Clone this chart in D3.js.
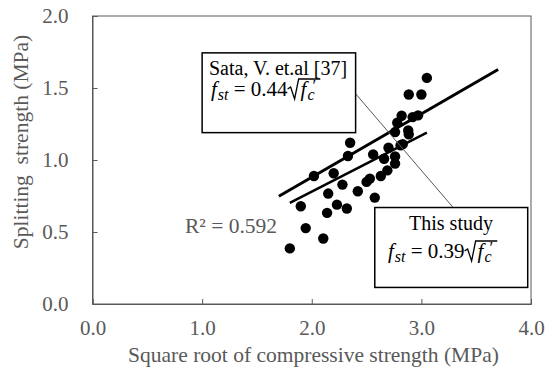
<!DOCTYPE html>
<html>
<head>
<meta charset="utf-8">
<script src="https://cdn.jsdelivr.net/npm/d3@7"></script>
<style>
  html, body { margin: 0; padding: 0; background: #fff; }
  svg { display: block; }
</style>
</head>
<body>
<svg id="chart" width="550" height="377"></svg>
<script>
// ---- data ----
const xValues = [1.80, 1.90, 1.945, 2.02, 2.105, 2.14, 2.15, 2.20, 2.23, 2.28, 2.32, 2.33, 2.35, 2.42, 2.50, 2.53, 2.56, 2.575, 2.63, 2.66, 2.69, 2.70, 2.76, 2.76, 2.76, 2.78, 2.81, 2.82, 2.88, 2.885, 2.885, 2.92, 2.97, 3.00, 3.05, 2.83];
const yValues = [0.386, 0.679, 0.527, 0.889, 0.455, 0.633, 0.767, 0.908, 0.690, 0.829, 0.663, 1.028, 1.120, 0.783, 0.848, 0.871, 1.039, 0.739, 0.889, 1.009, 0.928, 1.085, 0.975, 1.025, 1.194, 1.259, 1.102, 1.307, 1.205, 1.178, 1.455, 1.298, 1.310, 1.455, 1.570, 1.110];
const xTicks = [0, 1, 2, 3, 4];
const yTicks = [0, 0.5, 1.0, 1.5, 2.0];
const sataCoef = 0.44;
const sataRange = [1.7, 3.7];
const studyCoef = 0.39;
const studyRange = [1.8, 3.05];
const r2Label = "R² = 0.592";
const sataTitle = "Sata, V. et.al [37]";
const studyTitle = "This study";
const xTitle = "Square root of compressive strength (MPa)";
const yTitle = "Splitting  strength (MPa)";

// ---- layout ----
const svg = d3.select("#chart");
const gray = "#595959";
const FONT = "\"Liberation Serif\"";
const x = d3.scaleLinear().domain([0, 4]).range([92.5, 531]);
const y = d3.scaleLinear().domain([0, 2]).range([304, 16]);

function styleText(sel, size) {
  return sel.style("font-family", FONT).style("font-size", size + "px");
}

// frame
svg.append("rect")
  .attr("x", x(0)).attr("y", y(2))
  .attr("width", x(4) - x(0)).attr("height", y(0) - y(2))
  .attr("fill", "none").attr("stroke", gray).attr("stroke-width", 1);

const xAxis = svg.append("g").attr("transform", `translate(0,${y(0)})`)
  .call(d3.axisBottom(x).tickValues(xTicks).tickFormat(d3.format(".1f")).tickSize(-5).tickPadding(16));
const yAxis = svg.append("g").attr("transform", `translate(${x(0)},0)`)
  .call(d3.axisLeft(y).tickValues(yTicks).tickFormat(d3.format(".1f")).tickSize(-5).tickPadding(24));
[xAxis, yAxis].forEach(g => {
  g.attr("font-family", null).attr("font-size", null);
  g.select(".domain").attr("stroke", gray);
  g.selectAll(".tick line").attr("stroke", gray);
  styleText(g.selectAll(".tick text"), 21).attr("fill", gray);
});

// axis titles
styleText(svg.append("text").attr("x", 313.5).attr("y", 362)
  .attr("text-anchor", "middle").attr("fill", gray), 21.5).text(xTitle);
styleText(svg.append("text").attr("transform", `translate(28,${y(1) - 18}) rotate(-90)`)
  .attr("text-anchor", "middle").attr("fill", gray), 21.5)
  .attr("xml:space", "preserve").style("white-space", "pre").text(yTitle);

// fit lines
const line = d3.line().x(d => x(d[0])).y(d => y(d[1]));
svg.append("path").datum(sataRange.map(v => [v, sataCoef * v]))
  .attr("d", line).attr("stroke", "#000").attr("stroke-width", 3).attr("fill", "none");
svg.append("path").datum(studyRange.map(v => [v, studyCoef * v]))
  .attr("d", line).attr("stroke", "#000").attr("stroke-width", 2.5).attr("fill", "none");

// points
svg.append("g").selectAll("circle").data(xValues.map((v, i) => [v, yValues[i]]))
  .join("circle").attr("cx", d => x(d[0])).attr("cy", d => y(d[1])).attr("r", 5.2).attr("fill", "#000");

// connector line
svg.append("line")
  .attr("x1", x(2.40)).attr("y1", y(1.46))
  .attr("x2", x(3.29)).attr("y2", y(0.67))
  .attr("stroke", gray).attr("stroke-width", 1);

// boxes
function box(x0, x1, y0, y1) {
  svg.append("rect")
    .attr("x", x(x0)).attr("y", y(y1))
    .attr("width", x(x1) - x(x0)).attr("height", y(y0) - y(y1))
    .attr("fill", "#fff").attr("stroke", "#000").attr("stroke-width", 1.5);
}
box(1.0, 2.40, 1.19, 1.744);
box(2.575, 3.97, 0.115, 0.67);

function formula(px, py, coef) {
  const g = svg.append("g");
  const t = styleText(g.append("text").attr("x", px).attr("y", py).attr("fill", "#000"), 21);
  t.append("tspan").style("font-style", "italic").text("f");
  t.append("tspan").style("font-style", "italic").style("font-size", "16px").attr("dx", 1).attr("dy", 4).text("st");
  t.append("tspan").attr("dy", -4).text(" = " + coef.toFixed(2));
  const w = t.node().getComputedTextLength();
  const rx = px + w + 1;
  const t2 = styleText(g.append("text").attr("x", rx + 13).attr("y", py).attr("fill", "#000"), 21);
  t2.append("tspan").style("font-style", "italic").text("f");
  t2.append("tspan").style("font-style", "italic").style("font-size", "16px").attr("dx", 1).attr("dy", 4).text("c");
  t2.append("tspan").style("font-size", "17px").attr("dx", -2).attr("dy", -9).text("′");
  const w2 = t2.node().getComputedTextLength();
  // radical sign
  const top = py - 17;
  g.append("path")
    .attr("d", `M${rx},${py - 7} L${rx + 3},${py - 9} L${rx + 7},${py + 3} L${rx + 11},${top} L${rx + 13 + w2 + 3},${top}`)
    .attr("stroke", "#000").attr("stroke-width", 1.3).attr("fill", "none");
}

styleText(svg.append("text").attr("x", 209).attr("y", 75).attr("fill", "#000"), 20).text(sataTitle);
formula(211, 96, sataCoef);

styleText(svg.append("text").attr("x", 451).attr("y", 230).attr("text-anchor", "middle").attr("fill", "#000"), 20).text(studyTitle);
formula(388, 258, studyCoef);

// R² label
styleText(svg.append("text").attr("x", 185).attr("y", 233).attr("fill", gray), 21.5).text(r2Label);
</script>
</body>
</html>
